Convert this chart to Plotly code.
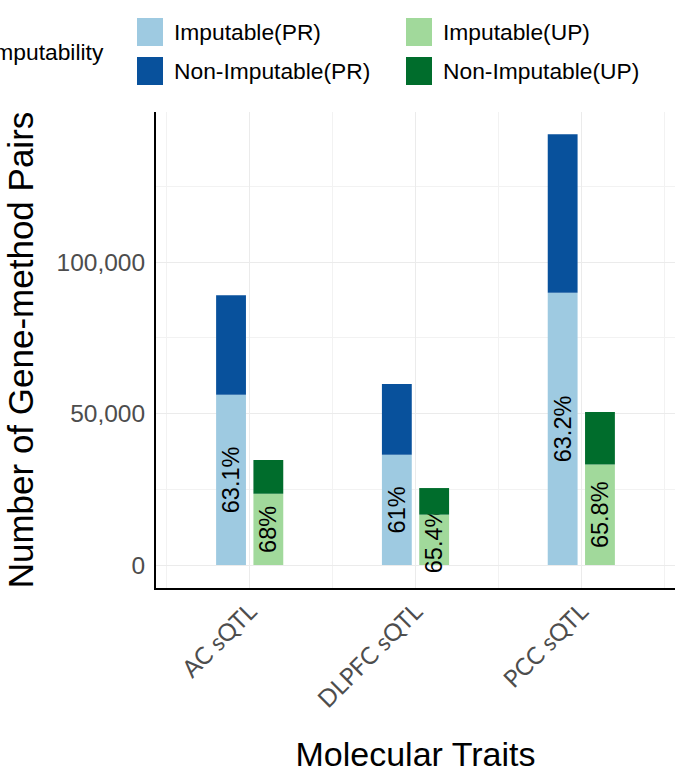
import plotly.graph_objects as go

# ---------------- data ----------------
categories = ["AC sQTL", "DLPFC sQTL", "PCC sQTL"]
total_pr = [89100, 59730, 142240]
imputable_pr = [56220, 36440, 89860]
total_up = [34650, 25410, 50490]
imputable_up = [23560, 16620, 33220]
y_tickvals = [0, 50000, 100000]

nonimp_pr = [t - i for t, i in zip(total_pr, imputable_pr)]
nonimp_up = [t - i for t, i in zip(total_up, imputable_up)]


def pct_labels(imp, tot):
    out = []
    for i, t in zip(imp, tot):
        v = round(i / t * 100, 1)
        out.append(f"{v:g}%")
    return out


labels_pr = pct_labels(imputable_pr, total_pr)
labels_up = pct_labels(imputable_up, total_up)

names = ["Imputable(PR)", "Non-Imputable(PR)", "Imputable(UP)", "Non-Imputable(UP)"]
colors = ["#9ecae1", "#08519c", "#a1d99b", "#006d2c"]

W, H = 684, 780
ML, MR, MT, MB = 156, 9, 112, 192
PW, PH = W - ML - MR, H - MT - MB

FONT = "Liberation Sans, Arial, sans-serif"
xpos = list(range(len(categories)))

fig = go.Figure()
fig.add_trace(go.Bar(x=xpos, y=imputable_pr, name=names[0], marker_color=colors[0],
                     offsetgroup="PR", text=labels_pr, textposition="inside",
                     insidetextanchor="middle", textangle=-90, constraintext="none",
                     textfont=dict(size=23.5, color="black", family=FONT),
                     cliponaxis=False, showlegend=False, marker_line_width=0))
fig.add_trace(go.Bar(x=xpos, y=nonimp_pr, base=imputable_pr, name=names[1],
                     marker_color=colors[1], offsetgroup="PR", showlegend=False,
                     marker_line_width=0))
fig.add_trace(go.Bar(x=xpos, y=imputable_up, name=names[2], marker_color=colors[2],
                     offsetgroup="UP", text=labels_up, textposition="inside",
                     insidetextanchor="middle", textangle=-90, constraintext="none",
                     textfont=dict(size=23.5, color="black", family=FONT),
                     cliponaxis=False, showlegend=False, marker_line_width=0))
fig.add_trace(go.Bar(x=xpos, y=nonimp_up, base=imputable_up, name=names[3],
                     marker_color=colors[3], offsetgroup="UP", showlegend=False,
                     marker_line_width=0))

# ---------------- manual legend (ggplot style) ----------------
def px_x(p):
    return (p - ML) / PW


def px_y(p):
    return (H - MB - p) / PH


shapes = []
annotations = []
sw_x = [137, 137, 406, 406]
sw_y = [18, 57, 18, 57]
legend_order = [0, 1, 2, 3]
for k, idx in enumerate(legend_order):
    x0, y0 = sw_x[k], sw_y[k]
    shapes.append(dict(type="rect", xref="paper", yref="paper",
                       x0=px_x(x0), x1=px_x(x0 + 26), y0=px_y(y0 + 28), y1=px_y(y0),
                       fillcolor=colors[idx], line=dict(width=0), layer="above"))
    annotations.append(dict(xref="paper", yref="paper", x=px_x(x0 + 35), y=px_y(y0 + 14),
                            xanchor="left", yanchor="middle", showarrow=False,
                            text=names[idx], font=dict(size=22.8, color="black", family=FONT)))
annotations.append(dict(xref="paper", yref="paper", x=px_x(106), y=px_y(52),
                        xanchor="right", yanchor="middle", showarrow=False,
                        text="Imputability", font=dict(size=22.8, color="black", family=FONT)))

fig.update_layout(
    width=W, height=H,
    margin=dict(l=ML, r=MR, t=MT, b=MB, pad=0),
    paper_bgcolor="white", plot_bgcolor="white",
    barmode="group", bargap=0.55, bargroupgap=0.2,
    showlegend=False,
    font=dict(family=FONT, color="black"),
    shapes=shapes, annotations=annotations,
)
fig.update_xaxes(
    range=[-0.565, 2.565], tickmode="array", tickvals=xpos, ticktext=categories,
    tickangle=-45, tickfont=dict(size=24, color="#4d4d4d", family="Lato, sans-serif"),
    showgrid=True, gridcolor="#ebebeb", gridwidth=1.3,
    minor=dict(tickmode="array", tickvals=[p - 0.5 for p in xpos] + [xpos[-1] + 0.5],
               showgrid=True, gridcolor="#f2f2f2", gridwidth=0.8, ticks=""),
    showline=True, linecolor="black", linewidth=2, zeroline=False, ticks="",
    ticklabelstandoff=-2,
    title=dict(text="Molecular Traits", font=dict(size=34, color="black", family=FONT), standoff=30),
)
fig.update_yaxes(
    range=[-7595, 149580], tickmode="array", tickvals=y_tickvals,
    ticktext=[f"{v:,}" for v in y_tickvals],
    tickfont=dict(size=24.5, color="#4d4d4d", family=FONT),
    showgrid=True, gridcolor="#ebebeb", gridwidth=1.3,
    minor=dict(dtick=25000, showgrid=True, gridcolor="#f2f2f2", gridwidth=0.8, ticks=""),
    showline=True, linecolor="black", linewidth=2, zeroline=False, ticks="",
    ticklabelstandoff=4,
    title=dict(text="Number of Gene-method Pairs", font=dict(size=35, color="black", family=FONT), standoff=12),
)

fig.write_html("out.html")
